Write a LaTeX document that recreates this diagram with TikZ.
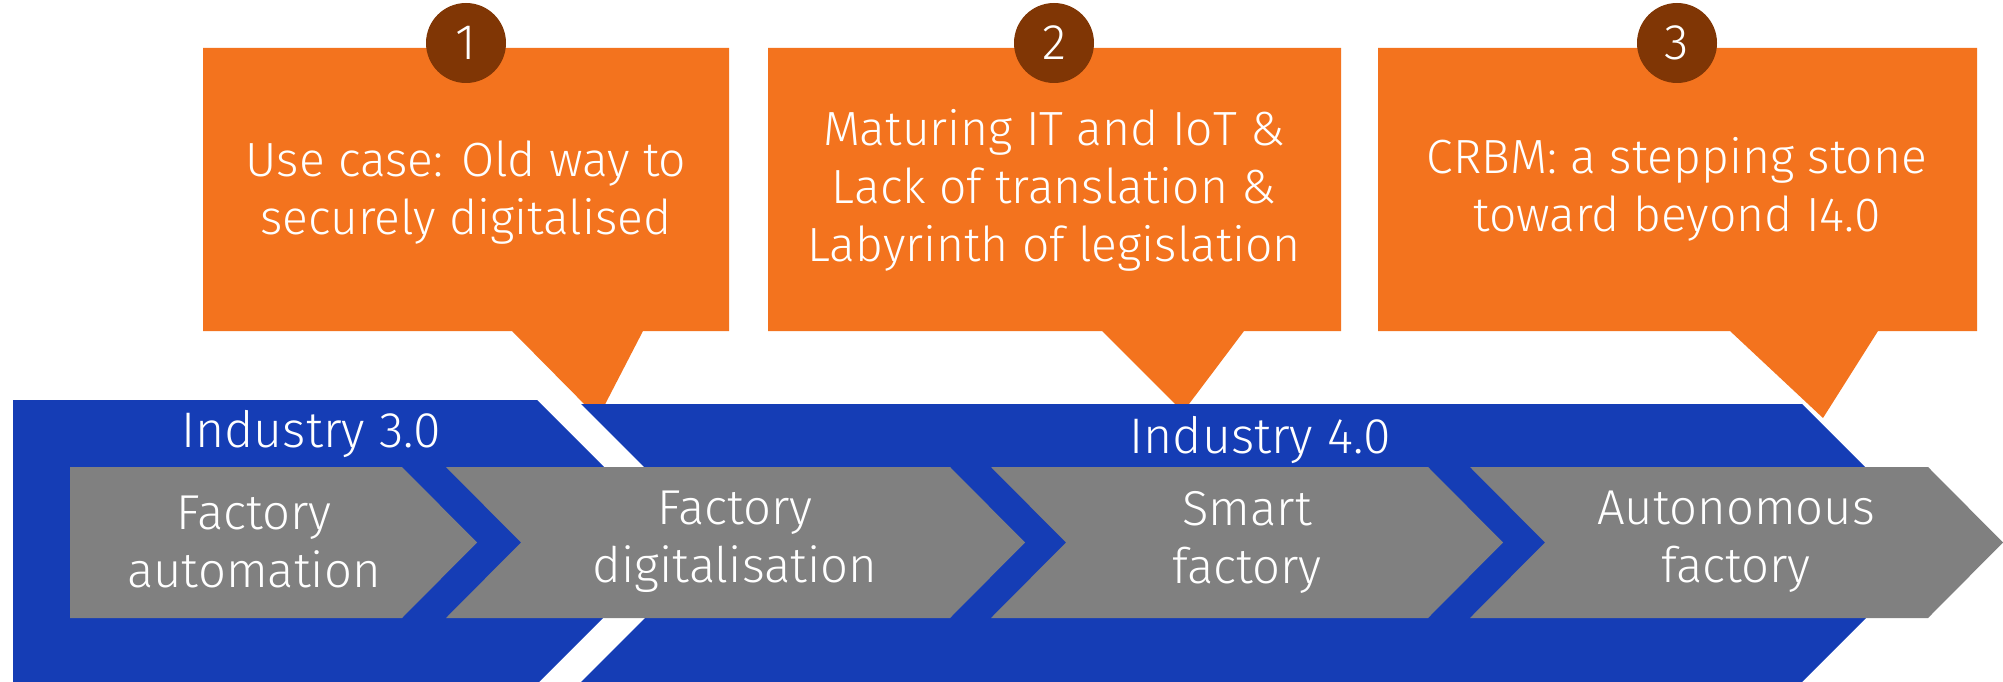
\documentclass[tikz,border=0pt]{standalone}
\usepackage{fontspec}
\setmainfont{Fira Sans}[UprightFont=* Light]
\usetikzlibrary{positioning}
\definecolor{calloutorange}{RGB}{243,115,30}
\definecolor{numbrown}{RGB}{128,54,5}
\definecolor{bandblue}{RGB}{21,61,181}
\definecolor{stagegray}{RGB}{128,128,128}
\begin{document}
\begin{tikzpicture}[
x=1pt,y=-1pt,
callout/.style={fill=calloutorange},
band/.style={fill=bandblue},
stage/.style={fill=stagegray},
numdot/.style={
  circle,
  fill=numbrown,
  minimum size=80pt,
  inner sep=0pt,
  text=white,
  font=\fontsize{50}{58}\selectfont
},
wtext/.style={
  text=white,
  align=center,
  inner sep=0pt,
  font=\fontsize{49}{58}\selectfont
},
ctext/.style={
  wtext,
  font=\fontsize{48}{58}\selectfont
}
]
\useasboundingbox (0,0) rectangle (2003,682);
% callouts
\fill[callout] (203,48) -- (729,48) -- (729,331) -- (643,331) -- (598,418)
  -- (512,331) -- (203,331) -- cycle;
\fill[callout] (768,48) -- (1341,48) -- (1341,331) -- (1244,331) -- (1183,412)
  -- (1102,331) -- (768,331) -- cycle;
\fill[callout] (1378,48) -- (1977,48) -- (1977,331) -- (1878,331) -- (1823,418)
  -- (1730,331) -- (1378,331) -- cycle;
\node[numdot] (n1) at (466,43) {1};
\node[numdot] (n2) at (1054,43) {2};
\node[numdot] (n3) at (1677,43) {3};
\node[ctext] (usecase) at (466,193) {Use case: Old way to\\securely digitalised};
\node[ctext] (maturing) at (1054,190) {Maturing IT and IoT \&\\Lack of translation \&\\Labyrinth of legislation};
\node[ctext] (crbm) at (1677,189) {CRBM: a stepping stone\\toward beyond I4.0};
% industry bands
\fill[band] (13,400) -- (537,400) -- (679,542) -- (537,684) -- (13,684) -- cycle;
\fill[band] (581,404) -- (1802,404) -- (1941,543) -- (1802,682) -- (581,682)
  -- (720,543) -- cycle;
\node[wtext,anchor=base,font=\fontsize{50}{58}\selectfont] (ind3) at (311,447) {Industry 3.0};
\node[wtext,anchor=base,font=\fontsize{50}{58}\selectfont] (ind4) at (1260,453) {Industry 4.0};
% stages
\fill[stage] (70,467) -- (402,467) -- (477,542.5) -- (402,618) -- (70,618) -- cycle;
\fill[stage] (446,467) -- (950,467) -- (1025,542.5) -- (950,618) -- (446,618)
  -- (521,542.5) -- cycle;
\fill[stage] (991,467) -- (1428,467) -- (1503,542.5) -- (1428,618) -- (991,618)
  -- (1066,542.5) -- cycle;
\fill[stage] (1470,467) -- (1928,467) -- (2003,542.5) -- (1928,618) -- (1470,618)
  -- (1545,542.5) -- cycle;
\node[wtext] (auto) at (254,542) {Factory\\automation};
\node[wtext] (digi) at (735,542) {Factory\\digitalisation};
\node[wtext] (smart) at (1247,542) {Smart\\factory};
\node[wtext] (autono) at (1736,542) {Autonomous\\factory};
\end{tikzpicture}
\end{document}
